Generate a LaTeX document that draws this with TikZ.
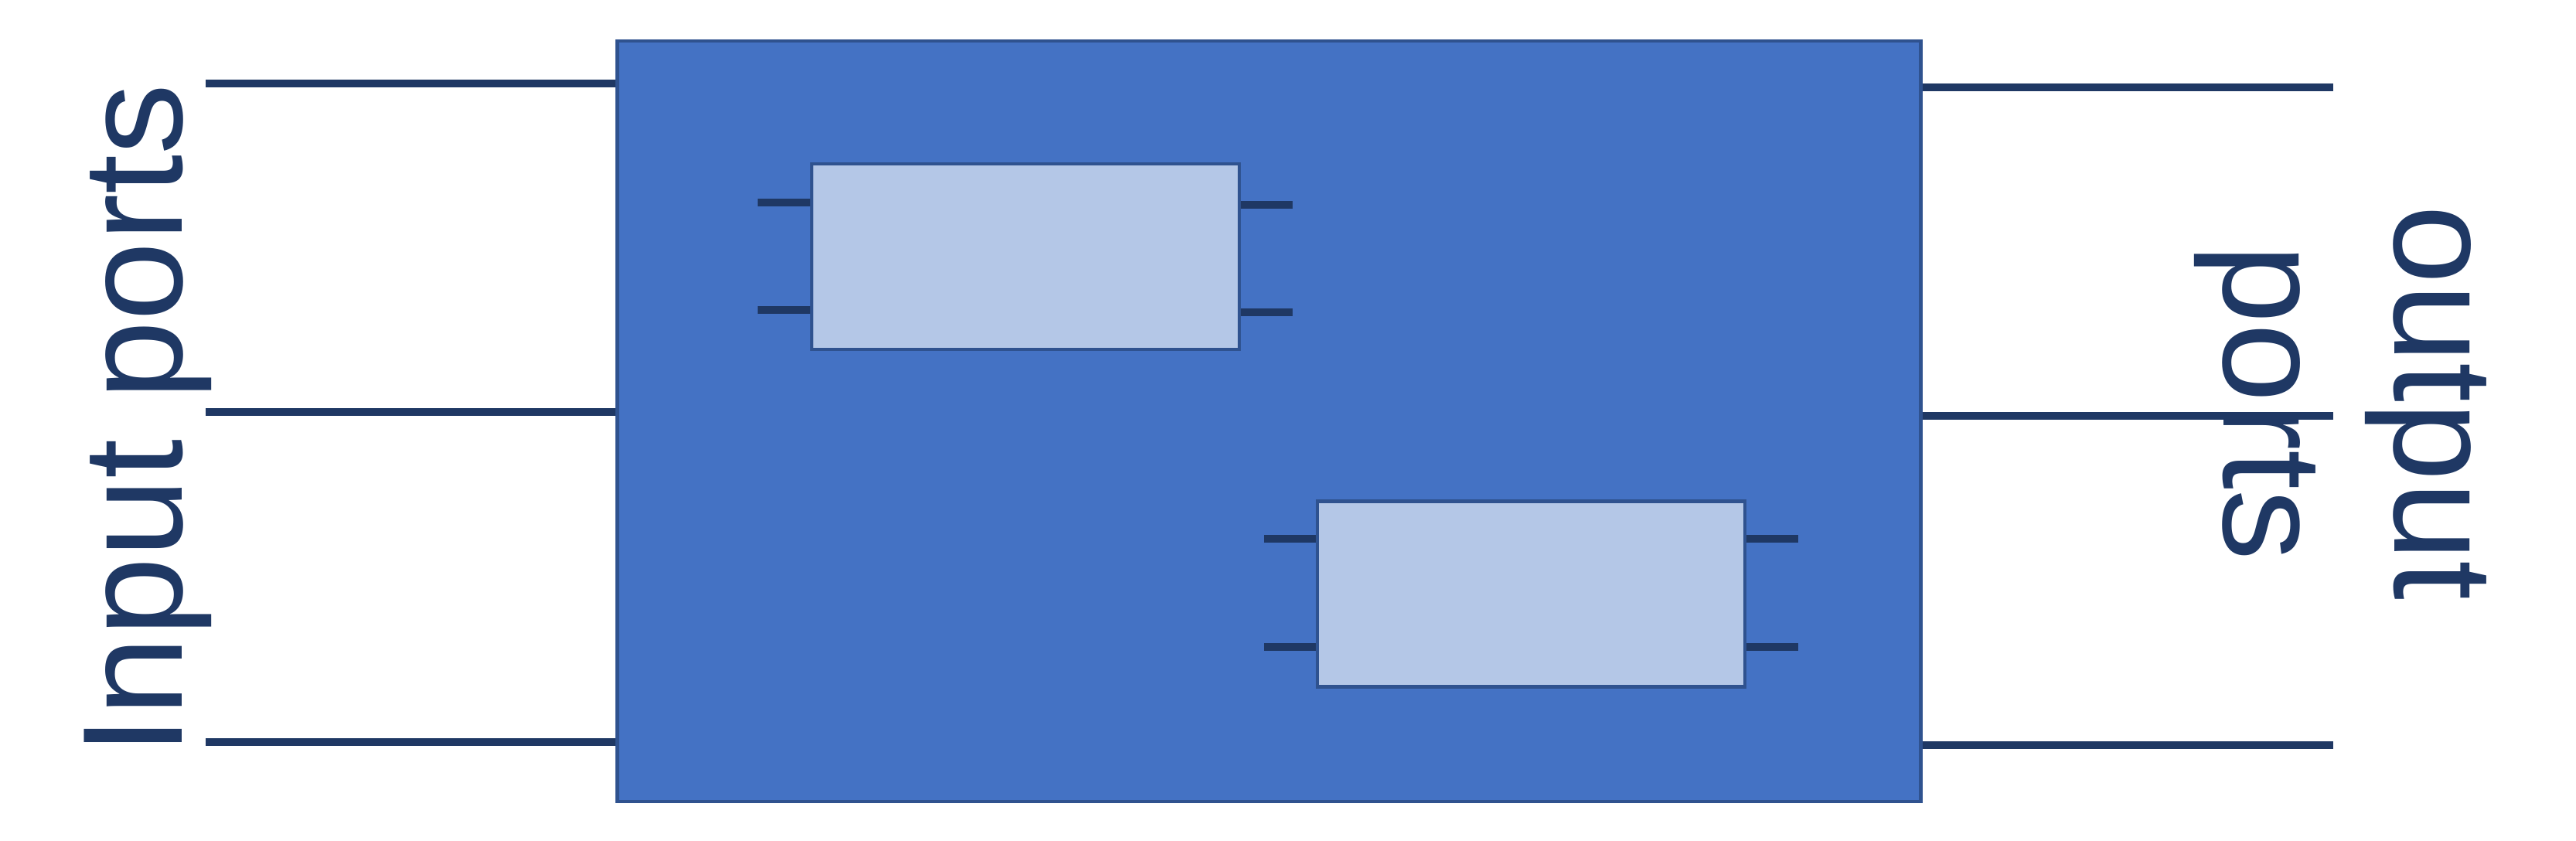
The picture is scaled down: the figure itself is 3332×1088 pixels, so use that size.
\documentclass[tikz,border=0pt]{standalone}
\usepackage{fontspec}
\setmainfont{Liberation Sans}
\definecolor{navy}{HTML}{1F3864}
\definecolor{mainfill}{HTML}{4472C4}
\definecolor{mainborder}{HTML}{2F528F}
\definecolor{subfill}{HTML}{B4C7E7}
\begin{document}
\begin{tikzpicture}[x=0.01cm,y=0.01cm,
  mainbox/.style={draw=mainborder,fill=mainfill,line width=1.2pt,inner sep=0pt,minimum width=16.85cm,minimum height=9.84cm},
  subbox/.style={draw=mainborder,fill=subfill,line width=1.2pt,inner sep=0pt,minimum width=5.53cm,minimum height=2.40cm},
  port/.style={draw=navy,line width=2.6pt},
  stub/.style={draw=navy,line width=2.8pt},
  lbl/.style={text=navy,inner sep=0pt,font=\fontsize{52.3}{62.8}\selectfont}]
\useasboundingbox (0,0) rectangle (3332,-1088);
\node[mainbox] (main) at (1641.5,-545) {};
\node[subbox] (b1) at (1326.5,-332) {};
\node[subbox] (b2) at (1980.5,-768.5) {};
% input ports
\coordinate (i1) at (266,-108);
\coordinate (i2) at (266,-533);
\coordinate (i3) at (266,-960);
\draw[port] (i1) -- (i1 -| main.west);
\draw[port] (i2) -- (i2 -| main.west);
\draw[port] (i3) -- (i3 -| main.west);
% output ports
\coordinate (o1) at (3018,-113);
\coordinate (o2) at (3018,-538);
\coordinate (o3) at (3018,-964);
\draw[port] (main.east |- o1) -- (o1);
\draw[port] (main.east |- o2) -- (o2);
\draw[port] (main.east |- o3) -- (o3);
% stubs of box 1
\coordinate (b1l1) at (980,-262);
\coordinate (b1l2) at (980,-401);
\coordinate (b1r1) at (1672,-265);
\coordinate (b1r2) at (1672,-404);
\draw[stub] (b1l1) -- (b1l1 -| b1.west);
\draw[stub] (b1l2) -- (b1l2 -| b1.west);
\draw[stub] (b1.east |- b1r1) -- (b1r1);
\draw[stub] (b1.east |- b1r2) -- (b1r2);
% stubs of box 2
\coordinate (b2l1) at (1635,-697);
\coordinate (b2l2) at (1635,-837);
\coordinate (b2r1) at (2326,-697);
\coordinate (b2r2) at (2326,-837);
\draw[stub] (b2l1) -- (b2l1 -| b2.west);
\draw[stub] (b2l2) -- (b2l2 -| b2.west);
\draw[stub] (b2.east |- b2r1) -- (b2r1);
\draw[stub] (b2.east |- b2r2) -- (b2r2);
% labels
\node[lbl,rotate=90,anchor=base west] (inlbl) at (235,-978) {Input ports};
\node[lbl,rotate=-90,anchor=base] (outlbl1) at (3097,-521) {output};
\node[lbl,rotate=-90,anchor=base] (outlbl2) at (2876,-521) {ports};
\end{tikzpicture}
\end{document}
